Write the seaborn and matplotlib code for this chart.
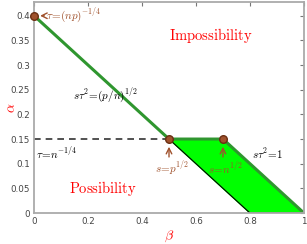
import numpy as np
import pandas as pd
import matplotlib
matplotlib.use('Agg')
import matplotlib.pyplot as plt
import seaborn as sns

# phase diagram data
boundary_beta = [0.0, 0.5, 0.7, 1.0]
boundary_alpha = [0.4, 0.15, 0.15, 0.0]
region_beta = [0.5, 0.7, 1.0, 0.8]
region_alpha = [0.15, 0.15, 0.0, 0.0]
dash_beta = [0.0, 0.5]
dash_alpha = [0.15, 0.15]
point_beta = [0.0, 0.5, 0.7]
point_alpha = [0.4, 0.15, 0.15]
xticks = [0, 0.2, 0.4, 0.6, 0.8, 1]
yticks = [0, 0.05, 0.1, 0.15, 0.2, 0.25, 0.3, 0.35, 0.4]

sns.set_style('white')
plt.rcParams['mathtext.fontset'] = 'cm'
plt.rcParams['font.family'] = ['DejaVu Sans']

BROWN = '#a0522d'
GREEN = '#2f962f'
GRAY = '#aaaaaa'

fig = plt.figure(figsize=(3.07, 2.44), dpi=100)
ax = fig.add_axes([0.111, 0.127, 0.879, 0.865])

df = pd.DataFrame({'beta': boundary_beta, 'alpha': boundary_alpha})
ax.fill(region_beta, region_alpha, color='#00ff00', zorder=1)
ax.plot(region_beta[2:] + region_beta[:1], region_alpha[2:] + region_alpha[:1],
        color='black', lw=0.8, zorder=1.5)
sns.lineplot(data=df, x='beta', y='alpha', sort=False, color=GREEN, lw=2.2,
             ax=ax, zorder=2)
ax.plot(dash_beta, dash_alpha, color='#333333', lw=1.2, ls=(0, (4, 3)), zorder=1.8)
pts = pd.DataFrame({'beta': point_beta, 'alpha': point_alpha})
sns.scatterplot(data=pts, x='beta', y='alpha', s=30, color=BROWN,
                edgecolor='#6b2f12', linewidth=1.0, ax=ax, zorder=3, clip_on=False)

# arrows
arrow = dict(arrowstyle='->', color=BROWN, lw=1.0)
ax.annotate('', xy=(0.012, 0.4), xytext=(0.048, 0.4), arrowprops=arrow)
ax.annotate('', xy=(0.5, 0.14), xytext=(0.5, 0.108), arrowprops=arrow)
ax.annotate('', xy=(0.7, 0.14), xytext=(0.7, 0.108), arrowprops=arrow)

ax.text(0.045, 0.4, r'$\tau\!=\!(np)^{-1/4}$', color=BROWN, fontsize=8, va='center')
ax.text(0.448, 0.091, r'$s\!=\!p^{1/2}$', color=BROWN, fontsize=8, va='center')
ax.text(0.644, 0.091, r'$s\!=\!n^{1/2}$', color=BROWN, fontsize=8, va='center')
ax.text(0.144, 0.238, r'$s\tau^2\!=\!(p/n)^{1/2}$', color='black', fontsize=8, va='center')
ax.text(0.008, 0.122, r'$\tau\!=\!n^{-1/4}$', color='black', fontsize=8, va='center')
ax.text(0.807, 0.12, r'$s\tau^2\!=\!1$', color='black', fontsize=8, va='center')
ax.text(0.656, 0.36, r'$\mathrm{Impossibility}$', color='red', fontsize=10.5,
        ha='center', va='center')
ax.text(0.255, 0.049, r'$\mathrm{Possibility}$', color='red', fontsize=10.5,
        ha='center', va='center')

ax.set_xlim(0, 1)
ax.set_ylim(0, 0.428)
ax.set_xticks(xticks)
ax.set_xticklabels(['0', '0.2', '0.4', '0.6', '0.8', '1'])
ax.set_yticks(yticks)
ax.set_yticklabels(['0', '0.05', '0.1', '0.15', '0.2', '0.25', '0.3', '0.35', '0.4'])
ax.tick_params(direction='in', length=3, width=0.8, color='#777777', labelsize=6.3,
               labelcolor='#444444', top=True, right=True, pad=3)
for sp in ax.spines.values():
    sp.set_color(GRAY)
    sp.set_linewidth(1.3)
ax.set_xlabel(r'$\beta$', color='red', fontsize=10, labelpad=2)
ax.set_ylabel(r'$\alpha$', color='red', fontsize=10, rotation=90, va='center')
ax.yaxis.set_label_coords(-0.085, 0.5)

fig.savefig('out.png', dpi=100)
